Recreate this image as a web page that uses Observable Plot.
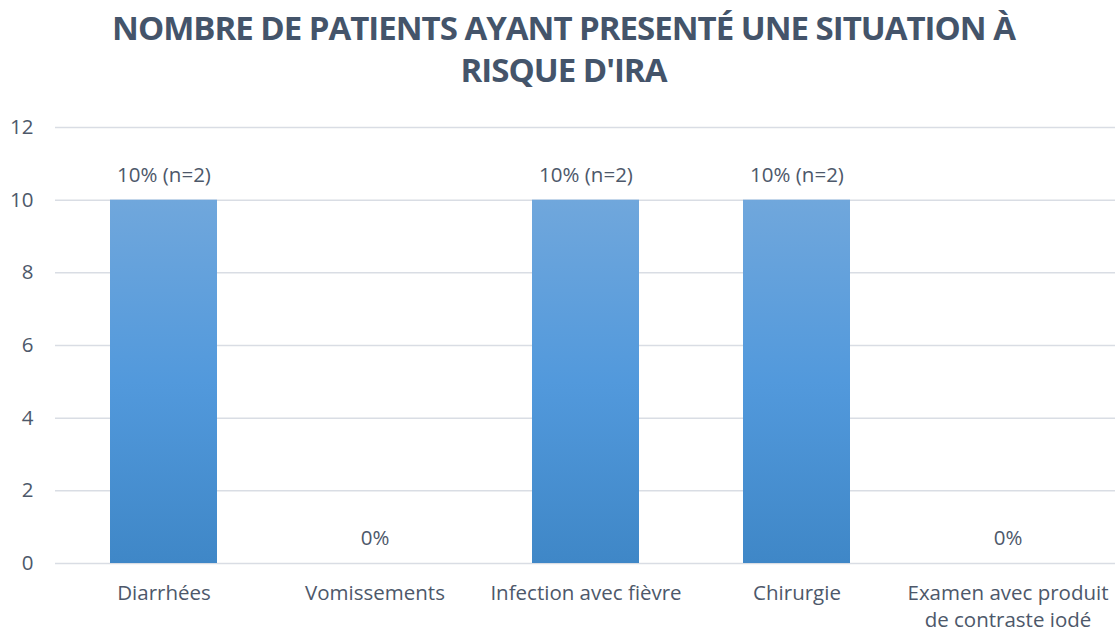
<!DOCTYPE html>
<html>
<head>
<meta charset="utf-8">
<script src="https://cdn.jsdelivr.net/npm/d3@7"></script>
<script src="https://cdn.jsdelivr.net/npm/@observablehq/plot@0.6"></script>
<style>
  html, body { margin: 0; padding: 0; background: #fff; }
  #title {
    width: 1119px; height: 110px; box-sizing: border-box; padding-top: 7px; padding-left: 8px;
    text-align: center; color: #44546a;
    font-family: "Open Sans", sans-serif;
    font-weight: bold; font-size: 33px; line-height: 42px; letter-spacing: -1px;
  }
</style>
</head>
<body>
<div id="title">NOMBRE DE PATIENTS AYANT PRESENTÉ UNE SITUATION À<br>RISQUE D'IRA</div>
<div id="chart"></div>
<script>
const categories = ["Diarrhées", "Vomissements", "Infection avec fièvre", "Chirurgie", "Examen avec produit de contraste iodé"];
const tickLabels = ["Diarrhées", "Vomissements", "Infection avec fièvre", "Chirurgie", "Examen avec produit\nde contraste iodé"];
const values = [10, 0, 10, 10, 0];
const valueLabels = ["10% (n=2)", "0%", "10% (n=2)", "10% (n=2)", "0%"];
const yTicks = [0, 2, 4, 6, 8, 10, 12];

const data = categories.map((c, i) => ({cat: c, value: values[i], label: valueLabels[i]}));
const textColor = "#4d586a";
const fs = 20.5;

const chart = Plot.plot({
  width: 1119,
  height: 525,
  marginTop: 17,
  marginBottom: 72,
  marginLeft: 55,
  marginRight: 4,
  style: {fontFamily: "'Open Sans', sans-serif", fontSize: fs + "px", color: textColor, background: "#fff"},
  x: {domain: categories, paddingInner: 0.495, paddingOuter: 0.25, label: null},
  y: {domain: [0, 12], label: null},
  marks: [
    Plot.gridY(yTicks, {stroke: "#d9dde4", strokeOpacity: 1, strokeWidth: 1.5}),
    Plot.barY(data, {x: "cat", y: "value", fill: "url(#barGrad)"}),
    Plot.text(data, {x: "cat", y: "value", text: "label", dy: -25, fill: textColor, fontSize: fs}),
    Plot.axisY({ticks: yTicks, tickSize: 0, tickPadding: 22, fontSize: fs, fill: textColor}),
    Plot.axisX({tickSize: 0, tickPadding: 18, fontSize: fs, fill: textColor, lineHeight: 1.3,
      tickFormat: (d) => tickLabels[categories.indexOf(d)]})
  ]
});

const ns = "http://www.w3.org/2000/svg";
const defs = document.createElementNS(ns, "defs");
const grad = document.createElementNS(ns, "linearGradient");
grad.setAttribute("id", "barGrad");
grad.setAttribute("x1", "0"); grad.setAttribute("y1", "0");
grad.setAttribute("x2", "0"); grad.setAttribute("y2", "1");
[["0", "#70a7dc"], ["0.5", "#5299dc"], ["1", "#3f87c7"]].forEach(([o, c]) => {
  const s = document.createElementNS(ns, "stop");
  s.setAttribute("offset", o); s.setAttribute("stop-color", c);
  grad.appendChild(s);
});
defs.appendChild(grad);
chart.insertBefore(defs, chart.firstChild);
document.getElementById("chart").appendChild(chart);
</script>
</body>
</html>
